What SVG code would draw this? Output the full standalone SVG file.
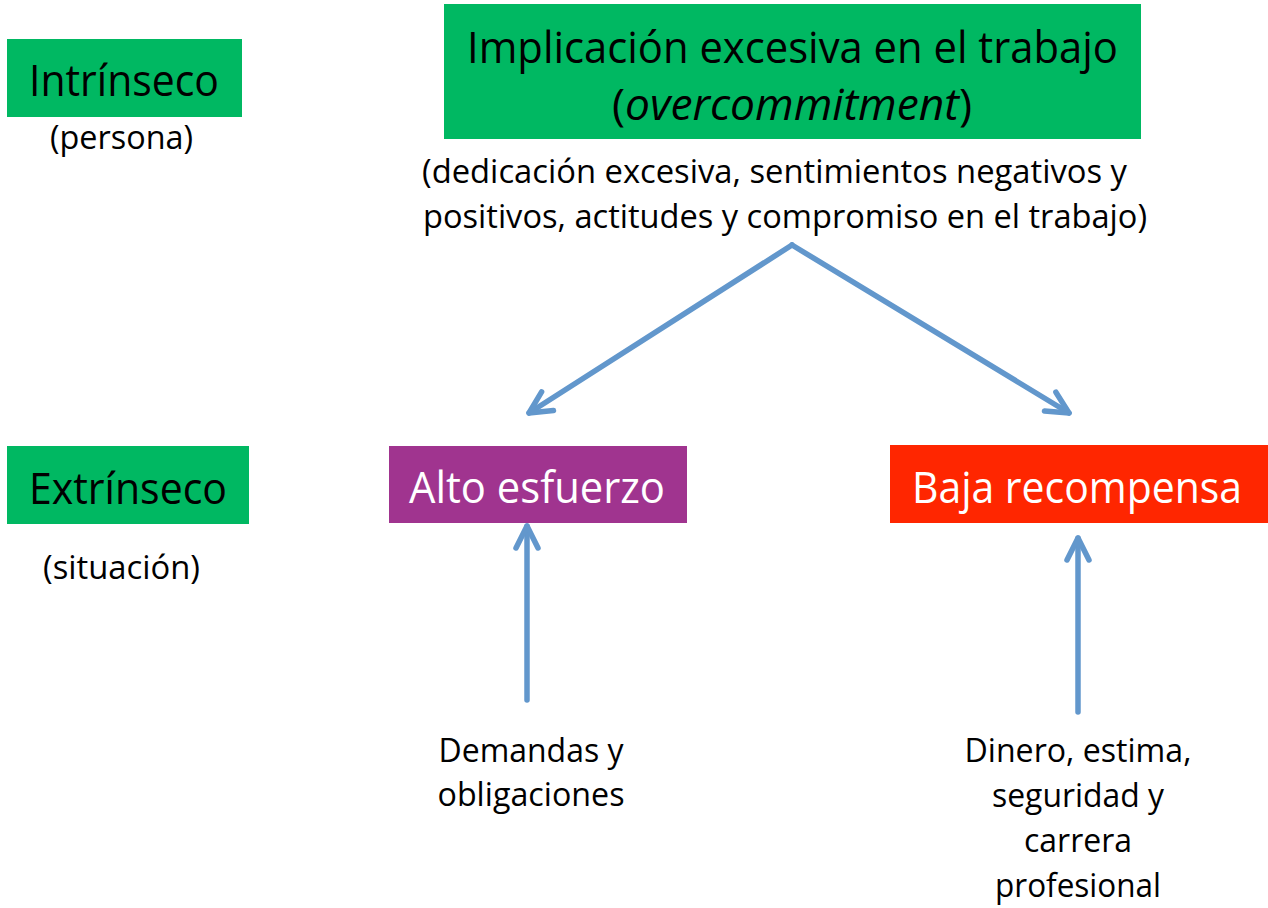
<svg xmlns="http://www.w3.org/2000/svg" width="1268" height="908" viewBox="0 0 1268 908">
<defs>
<style>
text{font-family:"Open Sans","Noto Sans","Liberation Sans",sans-serif;fill:#000;}
.big{font-size:44px;}
.mid{font-size:32px;}
.w{fill:#fff;}
.c{text-anchor:middle;}
.green{fill:#00B862;}
.conn{stroke:#6297CC;stroke-width:5.5;fill:none;stroke-linecap:round;}
</style>
<marker id="ah" markerUnits="userSpaceOnUse" markerWidth="40" markerHeight="40" viewBox="-30 -20 40 40" refX="0" refY="0" orient="auto">
<path d="M -22 -11 L 0 0 L -22 11" fill="none" stroke="#6297CC" stroke-width="5.5" stroke-linecap="round" stroke-linejoin="round"/>
</marker>
</defs>
<rect width="1268" height="908" fill="#fff"/>
<g id="intrinseco">
<rect class="green" x="7" y="39" width="235" height="78"/>
<text class="big" x="29" y="96" textLength="190" lengthAdjust="spacingAndGlyphs">Intrínseco</text>
<text class="mid" x="50" y="149" textLength="143" lengthAdjust="spacingAndGlyphs">(persona)</text>
</g>
<g id="implicacion">
<rect class="green" x="444" y="4" width="697" height="135"/>
<text class="big" x="467" y="63" textLength="651" lengthAdjust="spacingAndGlyphs">Implicación excesiva en el trabajo</text>
<text class="big" x="612" y="120" textLength="360" lengthAdjust="spacingAndGlyphs">(<tspan font-style="italic">overcommitment</tspan>)</text>
<text class="mid" x="422" y="183" textLength="705" lengthAdjust="spacingAndGlyphs">(dedicación excesiva, sentimientos negativos y</text>
<text class="mid" x="423" y="228" textLength="724" lengthAdjust="spacingAndGlyphs">positivos, actitudes y compromiso en el trabajo)</text>
</g>
<g id="extrinseco">
<rect class="green" x="7" y="446" width="242" height="78"/>
<text class="big" x="29" y="504" textLength="198" lengthAdjust="spacingAndGlyphs">Extrínseco</text>
<text class="mid" x="43" y="579" textLength="157" lengthAdjust="spacingAndGlyphs">(situación)</text>
</g>
<g id="alto">
<rect x="389" y="446" width="298" height="77" fill="#A0348F"/>
<text class="big w" x="409" y="503" textLength="256" lengthAdjust="spacingAndGlyphs">Alto esfuerzo</text>
</g>
<g id="baja">
<rect x="890" y="445" width="378" height="78" fill="#FF2600"/>
<text class="big w" x="912" y="503" textLength="330" lengthAdjust="spacingAndGlyphs">Baja recompensa</text>
</g>
<g id="demandas">
<text class="mid c" x="531" y="762" textLength="185" lengthAdjust="spacingAndGlyphs">Demandas y</text>
<text class="mid c" x="531" y="806" textLength="187" lengthAdjust="spacingAndGlyphs">obligaciones</text>
</g>
<g id="dinero">
<text class="mid c" x="1078" y="762" textLength="227" lengthAdjust="spacingAndGlyphs">Dinero, estima,</text>
<text class="mid c" x="1078" y="807" textLength="172" lengthAdjust="spacingAndGlyphs">seguridad y</text>
<text class="mid c" x="1078" y="852" textLength="108" lengthAdjust="spacingAndGlyphs">carrera</text>
<text class="mid c" x="1078" y="897" textLength="166" lengthAdjust="spacingAndGlyphs">profesional</text>
</g>
<g id="connectors">
<path class="conn" d="M 792 245 L 529 413" marker-end="url(#ah)"/>
<path class="conn" d="M 792 245 L 1069 413" marker-end="url(#ah)"/>
<path class="conn" d="M 527 700 L 527 526" marker-end="url(#ah)"/>
<path class="conn" d="M 1078 712 L 1078 538" marker-end="url(#ah)"/>
</g>
</svg>
